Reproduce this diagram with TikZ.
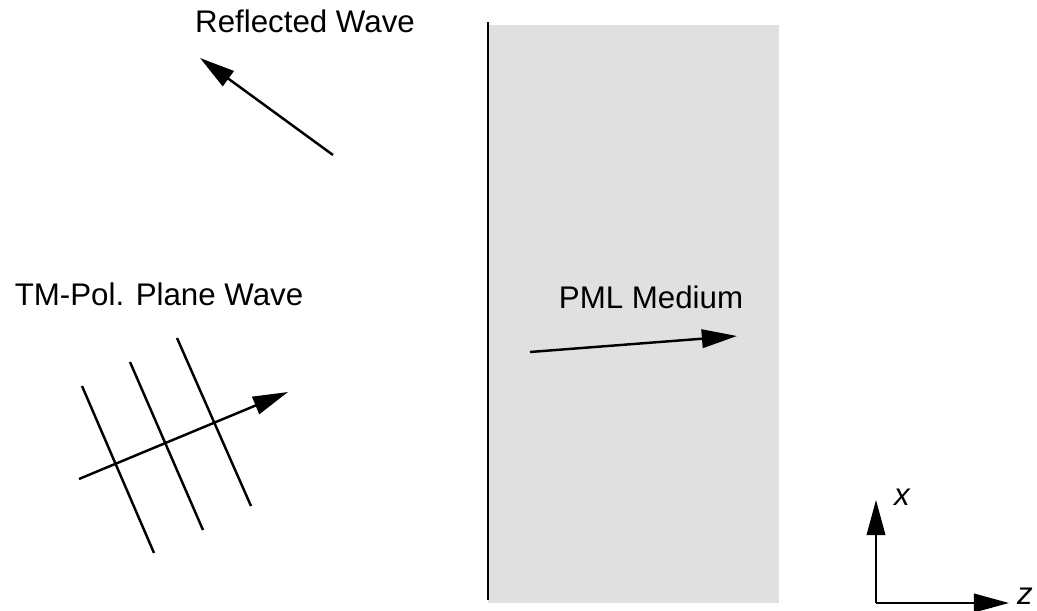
\documentclass[tikz,border=0pt]{standalone}
\usepackage{fontspec}
\setmainfont{Liberation Sans}
\usetikzlibrary{arrows.meta}
\definecolor{pmlgray}{HTML}{E0E0E0}
\tikzset{
  lbl/.style={font=\fontsize{17.8}{21}\selectfont, inner sep=0pt, anchor=base},
  axlbl/.style={font=\fontsize{17.8}{21}\selectfont\itshape, inner sep=0pt},
  wline/.style={line width=1.4pt},
  arr/.style={line width=1.4pt, -{Triangle[length=20pt,width=10.5pt]}},
}
\begin{document}
\begin{tikzpicture}[x=0.02cm,y=-0.02cm]
\useasboundingbox (0,0) rectangle (1037,611);
% PML region
\fill[pmlgray] (488,25) rectangle (779,603);
\coordinate (ifTop) at (488,22);
\coordinate (ifBot) at (488,600);
\draw[line width=1.5pt] (ifTop) -- (ifBot);
% labels
\node[lbl] (refl) at (305,33) {Reflected Wave};
\node[lbl] (tm) at (159,305) {TM-Pol. Plane Wave};
\node[lbl] (pml) at (651,308) {PML Medium};
% reflected arrow
\coordinate (rS) at (333,155);
\coordinate (rE) at (200,58);
\draw[arr] (rS) -- (rE);
% PML arrow
\coordinate (pS) at (530,352);
\coordinate (pE) at (737,336);
\draw[arr] (pS) -- (pE);
% plane wave
\coordinate (w1a) at (82,386); \coordinate (w1b) at (154,553);
\coordinate (w2a) at (130,362); \coordinate (w2b) at (203,530);
\coordinate (w3a) at (177,338); \coordinate (w3b) at (251,506);
\draw[wline] (w1a) -- (w1b);
\draw[wline] (w2a) -- (w2b);
\draw[wline] (w3a) -- (w3b);
\coordinate (kS) at (79,479);
\coordinate (kE) at (288,392);
\draw[arr] (kS) -- (kE);
% axes
\coordinate (o) at (876,603);
\coordinate (xE) at (876,500);
\coordinate (zE) at (1009,603);
\draw[arr] (o) -- (xE);
\draw[arr] (o) -- (zE);
\node[axlbl, anchor=base] (xl) at (902,505) {x};
\node[axlbl, anchor=base east] (zl) at (1033,604) {z};
\end{tikzpicture}
\end{document}
